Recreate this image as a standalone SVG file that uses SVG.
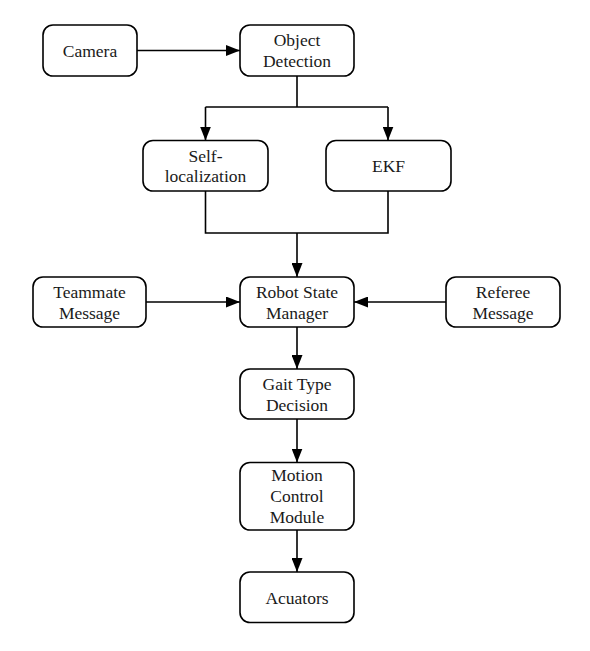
<svg xmlns="http://www.w3.org/2000/svg" width="590" height="651" viewBox="0 0 590 651">
<defs>
<marker id="ah" markerUnits="userSpaceOnUse" markerWidth="15" markerHeight="11" refX="14" refY="5.5" orient="auto">
<path d="M0,0 L14,5.5 L0,11 z" fill="#000"/>
</marker>
<style>
.box{fill:#fff;stroke:#000;stroke-width:1.6}
.lbl{font-family:"Liberation Serif","Times New Roman",serif;font-size:17.5px;fill:#1a1a1a;text-anchor:middle}
.ln{fill:none;stroke:#000;stroke-width:1.6}
</style>
</defs>
<rect width="590" height="651" fill="#fff"/>
<g id="connectors">
<line class="ln" x1="137" y1="50.5" x2="240" y2="50.5" marker-end="url(#ah)"/>
<polyline class="ln" points="297,76 297,107"/>
<polyline class="ln" points="205.5,107 388,107"/>
<line class="ln" x1="205.5" y1="107" x2="205.5" y2="140.5" marker-end="url(#ah)"/>
<line class="ln" x1="388" y1="107" x2="388" y2="140.5" marker-end="url(#ah)"/>
<polyline class="ln" points="205.5,191 205.5,233 388,233 388,191"/>
<line class="ln" x1="297" y1="233" x2="297" y2="277" marker-end="url(#ah)"/>
<line class="ln" x1="146" y1="302" x2="240" y2="302" marker-end="url(#ah)"/>
<line class="ln" x1="446" y1="302" x2="354" y2="302" marker-end="url(#ah)"/>
<line class="ln" x1="297" y1="327" x2="297" y2="369" marker-end="url(#ah)"/>
<line class="ln" x1="297" y1="419" x2="297" y2="462.5" marker-end="url(#ah)"/>
<line class="ln" x1="297" y1="530" x2="297" y2="572" marker-end="url(#ah)"/>
</g>
<g id="camera"><rect class="box" x="43" y="25" width="94" height="51" rx="10"/><text class="lbl" x="90" y="56.5">Camera</text></g>
<g id="object-detection"><rect class="box" x="240" y="25" width="114" height="51" rx="10"/><text class="lbl" x="297" y="46">Object</text><text class="lbl" x="297" y="67">Detection</text></g>
<g id="self-localization"><rect class="box" x="143" y="140.5" width="125" height="50.5" rx="10"/><text class="lbl" x="205.5" y="162">Self-</text><text class="lbl" x="205.5" y="182">localization</text></g>
<g id="ekf"><rect class="box" x="326" y="140.5" width="125" height="50.5" rx="10"/><text class="lbl" x="388.5" y="172">EKF</text></g>
<g id="teammate-message"><rect class="box" x="33" y="277" width="113" height="50" rx="10"/><text class="lbl" x="89.5" y="297.5">Teammate</text><text class="lbl" x="89.5" y="318.5">Message</text></g>
<g id="robot-state-manager"><rect class="box" x="240" y="277" width="114" height="50" rx="10"/><text class="lbl" x="297" y="297.5">Robot State</text><text class="lbl" x="297" y="318.5">Manager</text></g>
<g id="referee-message"><rect class="box" x="446" y="277" width="114" height="50" rx="10"/><text class="lbl" x="503" y="297.5">Referee</text><text class="lbl" x="503" y="318.5">Message</text></g>
<g id="gait-type-decision"><rect class="box" x="240" y="369" width="114" height="50" rx="10"/><text class="lbl" x="297" y="389.5">Gait Type</text><text class="lbl" x="297" y="410.5">Decision</text></g>
<g id="motion-control-module"><rect class="box" x="240" y="462.5" width="114" height="67.5" rx="10"/><text class="lbl" x="297" y="481">Motion</text><text class="lbl" x="297" y="502">Control</text><text class="lbl" x="297" y="523">Module</text></g>
<g id="acuators"><rect class="box" x="240" y="572" width="114" height="50.5" rx="10"/><text class="lbl" x="297" y="603.5">Acuators</text></g>
</svg>
